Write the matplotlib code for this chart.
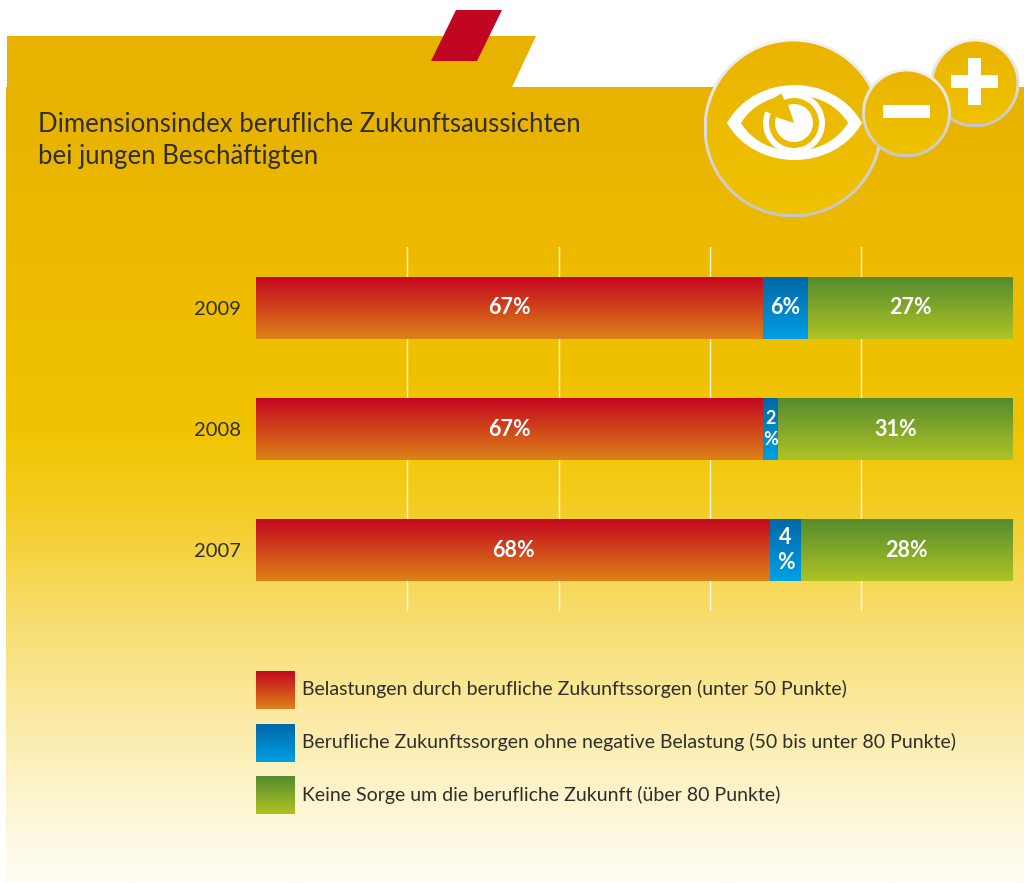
"""Stacked percent bars for the Dimensionsindex chart."""

import matplotlib

matplotlib.use("Agg")

import matplotlib.pyplot as plt
import numpy as np
from matplotlib.colors import LinearSegmentedColormap
from matplotlib.patches import Circle, PathPatch, Polygon, Rectangle, Wedge
from matplotlib.path import Path

plt.rcParams["font.family"] = ["Lato", "DejaVu Sans"]

W, H = 1024, 883

TITLE = "Dimensionsindex berufliche Zukunftsaussichten\nbei jungen Beschäftigten"
years = ["2009", "2008", "2007"]
worries = [67, 67, 68]
no_burden = [6, 2, 4]
no_worry = [27, 31, 28]
legend_labels = [
    "Belastungen durch berufliche Zukunftssorgen (unter 50 Punkte)",
    "Berufliche Zukunftssorgen ohne negative Belastung (50 bis unter 80 Punkte)",
    "Keine Sorge um die berufliche Zukunft (über 80 Punkte)",
]

RED = ("#C4071F", "#DC8218")
BLUE = ("#0068A8", "#009FE3")
GREEN = ("#558B2F", "#AFC423")
series_colors = [RED, BLUE, GREEN]

GOLD = "#E8B200"
ICON_GOLD = ("#EAB400", "#F0C200")
RIM = ("#F4F4F2", "#C6C6C6")
TEXT = "#2F2E28"


def gradient_fill(ax, patch, colors):
    """Fill a rectangle patch with a vertical gradient, keeping the axis limits."""
    x0, y0 = patch.get_x(), patch.get_y()
    x1, y1 = x0 + patch.get_width(), y0 + patch.get_height()
    xlim, ylim = ax.get_xlim(), ax.get_ylim()
    cmap = LinearSegmentedColormap.from_list("g", colors)
    top, bottom = (y0, y1) if ylim[0] > ylim[1] else (y1, y0)
    ax.imshow(
        np.linspace(0, 1, 128).reshape(-1, 1),
        cmap=cmap,
        extent=(x0, x1, bottom, top),
        origin="upper",
        aspect="auto",
        zorder=3,
    )
    ax.set_xlim(xlim)
    ax.set_ylim(ylim)


def badge(ax, cx, cy, r, z):
    """Round icon base: grey rim with a gold disc, both vertical gradients."""
    for radius, colors, offset in [(r, RIM, 0.0), (r - 3, ICON_GOLD, 0.1)]:
        clip = Circle((cx, cy), radius, transform=ax.transData, fc="none", ec="none")
        ax.add_patch(clip)
        im = ax.imshow(
            np.linspace(0, 1, 128).reshape(-1, 1),
            cmap=LinearSegmentedColormap.from_list("b", colors),
            extent=(cx - radius, cx + radius, cy + radius, cy - radius),
            aspect="auto",
            zorder=z + offset,
        )
        im.set_clip_path(clip)
    ax.set_xlim(0, W)
    ax.set_ylim(H, 0)


def almond(x0, x1, cy, top, bottom):
    """Eye outline as two cubic curves reaching the given top and bottom."""
    k = (x1 - x0) * 0.21
    up = cy - (cy - top) / 0.75
    down = cy + (bottom - cy) / 0.75
    verts = [
        (x0, cy), (x0 + k, up), (x1 - k, up), (x1, cy),
        (x1 - k, down), (x0 + k, down), (x0, cy),
    ]
    codes = [Path.MOVETO] + [Path.CURVE4] * 6
    return Path(verts, codes)


fig = plt.figure(figsize=(W / 100, H / 100), dpi=100, facecolor="white")

# page background, in pixel coordinates
bg = fig.add_axes([0, 0, 1, 1], zorder=0)
bg.set_xlim(0, W)
bg.set_ylim(H, 0)
bg.axis("off")

bg_cmap = LinearSegmentedColormap.from_list(
    "bg",
    [
        (0.0, GOLD),
        (0.20, "#EDBA00"),
        (0.43, "#F1C403"),
        (0.52, "#F3CC1E"),
        (0.65, "#F7DB66"),
        (0.78, "#FBE99F"),
        (0.90, "#FDF5D0"),
        (1.0, "#FFFDF6"),
    ],
)
bg.imshow(
    np.linspace(0, 1, 512).reshape(-1, 1),
    cmap=bg_cmap,
    extent=(6, W, H, 87),
    aspect="auto",
    zorder=1,
)
bg.set_xlim(0, W)
bg.set_ylim(H, 0)
bg.add_patch(Polygon([(7, 36), (536, 36), (512, 87), (7, 87)], fc=GOLD, ec="none", zorder=2))
bg.add_patch(Polygon([(456, 10), (502, 10), (477, 61), (431, 61)], fc="#C10623", ec="none", zorder=3))

bg.text(38, 140.5, TITLE, fontsize=18.5, color=TEXT, va="center", ha="left", linespacing=1.37)

# eye icon and the plus/minus badges
badge(bg, 793, 128, 89.5, 4)
badge(bg, 975, 83, 44.5, 5)
badge(bg, 906.5, 113, 44.5, 6)

bg.add_patch(PathPatch(almond(727, 862, 123, 85, 160), fc="white", ec="none", zorder=7))
bg.add_patch(PathPatch(almond(741, 848, 123, 95, 151), fc="#ECBA00", ec="none", zorder=8))
bg.add_patch(Wedge((794, 123), 31, 0, 360, width=6, fc="white", ec="none", zorder=9))
bg.add_patch(Wedge((794, 123), 32, 202, 247, fc="#ECBA00", ec="none", zorder=10))
bg.add_patch(Wedge((794, 123), 19, 252, 198, fc="white", ec="none", zorder=11))

bg.add_patch(Rectangle((883, 105), 47, 13, fc="white", ec="none", zorder=11))
bg.add_patch(Rectangle((951, 75), 47, 13, fc="white", ec="none", zorder=11))
bg.add_patch(Rectangle((968, 58), 13, 47, fc="white", ec="none", zorder=11))

# legend swatches and labels
for top, label, colors in zip([671, 724, 776.5], legend_labels, series_colors):
    swatch = Rectangle((256, top), 39, 38, fc="none", ec="none")
    bg.add_patch(swatch)
    gradient_fill(bg, swatch, colors)
    bg.text(302, top + 18, label, fontsize=14.05, color=TEXT, va="center", ha="left")

# chart area: 0-100 % across px 256..1013, gridlines px 247..611
ax = fig.add_axes(
    [256 / W, 1 - 611 / H, (1012.6 - 256) / W, (611 - 247) / H],
    zorder=1,
    facecolor="none",
)
y = np.arange(len(years))
ax.set_xlim(0, 100)
ax.set_ylim(2.504, -0.504)
ax.set_xticks([20, 40, 60, 80])
ax.set_yticks(y, years)
ax.tick_params(axis="x", length=0, labelbottom=False)
ax.tick_params(axis="y", length=0, pad=10.8, labelsize=14.5, labelcolor=TEXT)
ax.grid(axis="x", color="white", linewidth=1.0, alpha=0.85, zorder=1)
ax.set_axisbelow(True)
for spine in ax.spines.values():
    spine.set_visible(False)

left = np.zeros(len(years))
for values, colors in zip([worries, no_burden, no_worry], series_colors):
    bars = ax.barh(y, values, left=left, height=0.512, color="none", linewidth=0)
    for bar, value in zip(bars, values):
        gradient_fill(ax, bar, colors)
        cx = bar.get_x() + bar.get_width() / 2
        cy = bar.get_y() + bar.get_height() / 2
        if value >= 5:
            label, size, spacing = f"{value}%", 15.5, 1.0
        elif value >= 3:
            label, size, spacing = f"{value}\n%", 15.5, 1.18
        else:
            label, size, spacing = f"{value}\n%", 13, 1.25
        ax.text(cx, cy, label, color="white", fontsize=size, fontweight="bold",
                ha="center", va="center", linespacing=spacing, zorder=5)
    left = left + np.array(values)

fig.savefig("out.png", dpi=100)
